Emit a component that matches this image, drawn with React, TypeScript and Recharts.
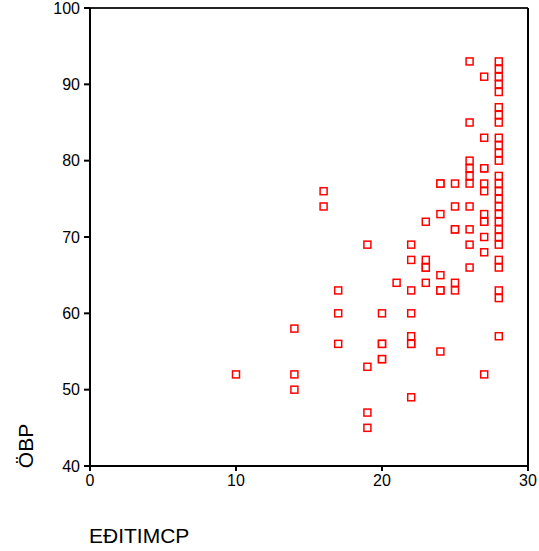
import React from 'react';
import { ScatterChart, Scatter, XAxis, YAxis, ReferenceLine } from 'recharts';

// education score per respondent (x)
const eduScores = [
  10,
  14, 14, 14,
  16, 16,
  17, 17, 17,
  19, 19, 19, 19,
  20, 20, 20, 20, 20,
  21,
  22, 22, 22, 22, 22, 22, 22, 22,
  23, 23, 23, 23, 23,
  24, 24, 24, 24, 24, 24, 24,
  25, 25, 25, 25, 25, 25,
  26, 26, 26, 26, 26, 26, 26, 26, 26, 26,
  27, 27, 27, 27, 27, 27, 27, 27, 27, 27, 27, 27,
  28, 28, 28, 28, 28, 28, 28, 28, 28, 28, 28, 28, 28, 28,
  28, 28, 28, 28, 28, 28, 28, 28, 28, 28, 28, 28, 28,
];

// ÖBP score per respondent (y)
const obpScores = [
  52,
  58, 52, 50,
  76, 74,
  63, 60, 56,
  69, 53, 47, 45,
  60, 56, 56, 54, 54,
  64,
  69, 67, 63, 60, 57, 56, 56, 49,
  72, 67, 66, 66, 64,
  77, 77, 73, 65, 63, 63, 55,
  77, 74, 71, 71, 64, 63,
  93, 85, 80, 79, 78, 77, 74, 71, 69, 66,
  91, 83, 79, 79, 77, 76, 73, 72, 72, 70, 68, 52,
  93, 92, 91, 90, 89, 87, 86, 85, 83, 82, 81, 80, 78, 77,
  76, 75, 74, 73, 72, 71, 70, 69, 67, 66, 63, 62, 57,
];

const xTicks = [0, 10, 20, 30];
const yTicks = [40, 50, 60, 70, 80, 90, 100];

const points = eduScores.map((x, i) => ({ x, y: obpScores[i] }));

const FONT = '"Liberation Sans", Arial, sans-serif';

const Square = (props: any) => {
  const { cx, cy } = props;
  if (cx == null || cy == null) return null;
  return (
    <rect x={cx - 3.5} y={cy - 3.5} width={7} height={7} fill="#fff" stroke="#ff0000" strokeWidth={1.5} />
  );
};

const App = () => {
  return (
    <div style={{ position: 'absolute', left: 0, top: 0, background: '#fff' }}>
      <ScatterChart width={539} height={551} margin={{ top: 8, right: 11, left: 0, bottom: 0 }}>
        <XAxis
          type="number"
          dataKey="x"
          domain={[0, 30]}
          ticks={xTicks}
          interval={0}
          stroke="#000"
          strokeWidth={2}
          tickSize={5}
          tickMargin={4}
          height={85}
          tick={{ fill: '#000', fontSize: 16, fontFamily: FONT }}
          label={{
            content: (p: any) => (
              <text x={p.viewBox.x - 1} y={p.viewBox.y + 77} fontSize={21} fontFamily={FONT} fill="#000">
                EÐITIMCP
              </text>
            ),
          }}
        />
        <YAxis
          type="number"
          dataKey="y"
          domain={[40, 100]}
          ticks={yTicks}
          interval={0}
          stroke="#000"
          strokeWidth={2}
          tickSize={6}
          tickMargin={4}
          width={90}
          tick={{ fill: '#000', fontSize: 16, fontFamily: FONT }}
          label={{
            content: (p: any) => (
              <text
                x={33}
                y={446}
                transform="rotate(-90, 33, 446)"
                textAnchor="middle"
                fontSize={21}
                fontFamily={FONT}
                fill="#000"
              >
                ÖBP
              </text>
            ),
          }}
        />
        <ReferenceLine y={100} stroke="#222" strokeWidth={2} />
        <ReferenceLine x={30} stroke="#000" strokeWidth={2} />
        <Scatter data={points} shape={Square} isAnimationActive={false} />
      </ScatterChart>
    </div>
  );
};

export default App;
